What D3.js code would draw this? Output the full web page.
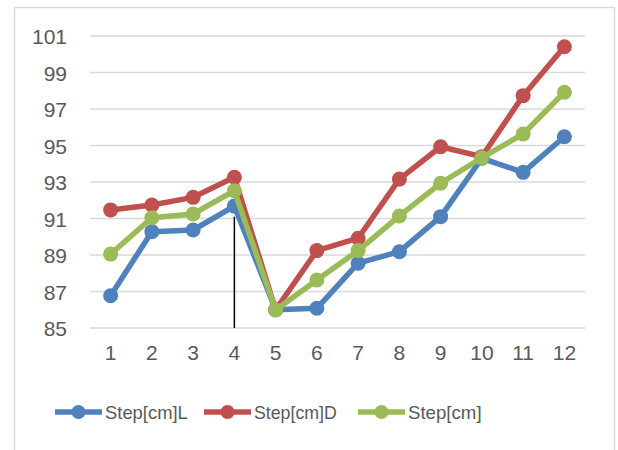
<!DOCTYPE html>
<html>
<head>
<meta charset="utf-8">
<script src="https://cdn.jsdelivr.net/npm/d3@7"></script>
<style>
  body { margin: 0; background: #fff; }
  text { font-family: "Liberation Sans", Arial, sans-serif; fill: #595959; }
</style>
</head>
<body>
<svg width="618" height="450"></svg>
<script>
var categories = [1, 2, 3, 4, 5, 6, 7, 8, 9, 10, 11, 12]
var yTicks = [85, 87, 89, 91, 93, 95, 97, 99, 101]
var stepL = [86.77, 90.28, 90.37, 91.68, 86.0, 86.08, 88.55, 89.18, 91.1, 94.3, 93.53, 95.48]
var stepD = [91.47, 91.74, 92.16, 93.26, 86.0, 89.24, 89.92, 93.16, 94.93, 94.39, 97.73, 100.41]
var step = [89.05, 91.04, 91.25, 92.52, 85.99, 87.63, 89.24, 91.14, 92.93, 94.33, 95.63, 97.92]
var seriesNames = ['Step[cm]L', 'Step[cm]D', 'Step[cm]']
var seriesColors = ['#4f81bd', '#c0504d', '#9bbb59']
// vertical marker line at category 4, from ~91.1 down to the axis
var markLine = { cat: 4, from: 91.1, to: 85 }

var svg = d3.select('svg')

// chart border
svg.append('rect')
    .attr('x', 14.5).attr('y', 7.5)
    .attr('width', 600).attr('height', 460)
    .attr('fill', 'none')
    .attr('stroke', '#d9d9d9')
    .attr('stroke-width', 1.5)

var x = d3.scaleBand().domain(categories).range([90, 585])
var y = d3.scaleLinear().domain([85, 101]).range([328, 36])
function cx(c) { return x(c) + x.bandwidth() / 2 }

// gridlines
svg.append('g').selectAll('line')
    .data(yTicks)
  .enter().append('line')
    .attr('x1', 90).attr('x2', 585)
    .attr('y1', function(d) { return y(d) })
    .attr('y2', function(d) { return y(d) })
    .attr('stroke', '#d9d9d9')
    .attr('stroke-width', 1.5)

// y axis labels
var yAxis = svg.append('g')
    .attr('transform', 'translate(67,1)')
    .call(d3.axisLeft(y).tickValues(yTicks).tickSize(0).tickPadding(0))
yAxis.attr('font-size', 21).attr('font-family', null)
yAxis.select('.domain').remove()

// x axis labels
var xAxis = svg.append('g')
    .attr('transform', 'translate(0,345)')
    .call(d3.axisBottom(x).tickSize(0).tickPadding(0))
xAxis.attr('font-size', 21).attr('font-family', null)
xAxis.select('.domain').remove()

// black vertical line
svg.append('line')
    .attr('x1', cx(markLine.cat)).attr('x2', cx(markLine.cat))
    .attr('y1', y(markLine.from)).attr('y2', y(markLine.to))
    .attr('stroke', '#000')
    .attr('stroke-width', 1.5)

var allSeries = [stepL, stepD, step]
var line = d3.line()
    .x(function(d, i) { return cx(categories[i]) })
    .y(function(d) { return y(d) })

allSeries.forEach(function(vals, k) {
  var g = svg.append('g')
  g.append('path')
      .datum(vals)
      .attr('d', line)
      .attr('fill', 'none')
      .attr('stroke', seriesColors[k])
      .attr('stroke-width', 5.5)
      .attr('stroke-linejoin', 'round')
  g.selectAll('circle')
      .data(vals)
    .enter().append('circle')
      .attr('cx', function(d, i) { return cx(categories[i]) })
      .attr('cy', function(d) { return y(d) })
      .attr('r', 7.5)
      .attr('fill', seriesColors[k])
})

// legend
var legendX = [55, 204, 358]
var legend = svg.append('g').selectAll('g')
    .data(seriesNames)
  .enter().append('g')
    .attr('transform', function(d, i) { return 'translate(' + legendX[i] + ',412)' })
legend.append('line')
    .attr('x1', 0).attr('x2', 47)
    .attr('stroke', function(d, i) { return seriesColors[i] })
    .attr('stroke-width', 5.5)
legend.append('circle')
    .attr('cx', 23.5).attr('r', 7)
    .attr('fill', function(d, i) { return seriesColors[i] })
legend.append('text')
    .attr('x', 50).attr('dy', '0.35em')
    .attr('font-size', 19)
    .attr('textLength', function(d) { return d.length * 9.2 })
    .attr('lengthAdjust', 'spacingAndGlyphs')
    .text(function(d) { return d })
</script>
</body>
</html>
